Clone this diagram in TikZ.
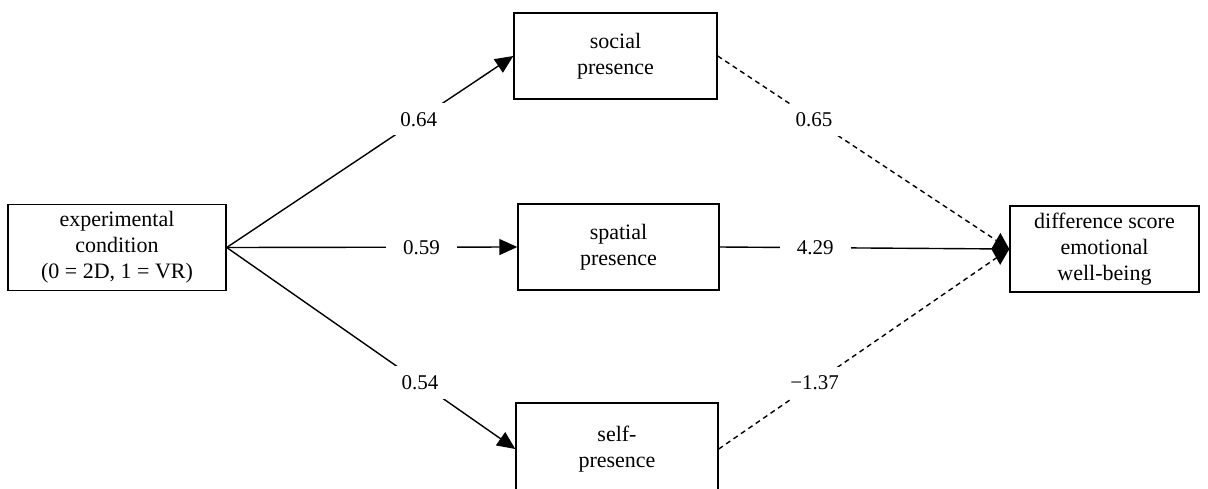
\documentclass[tikz,border=0pt]{standalone}
\usepackage{fontspec}
\setmainfont{Liberation Serif}
\usetikzlibrary{arrows.meta}

\begin{document}
\begin{tikzpicture}[x=1pt, y=-1pt, every node/.style={font=\fontsize{22}{26}\selectfont},
	box/.style={draw, line width=1.4pt, align=center, inner sep=0pt, minimum height=86pt},
	lbl/.style={fill=white, inner xsep=17pt, inner ysep=9pt, font=\fontsize{21}{25}\selectfont}]
	\useasboundingbox (0,0) rectangle (1208,488);
	\node[box, minimum width=218pt] (cond) at (117,247.5) {experimental\\ condition\\ (0 = 2D, 1 = VR)};
	\node[box, minimum width=203pt] (social) at (615.5,56) {social\\ presence};
	\node[box, minimum width=201pt] (spatial) at (618.5,247) {spatial\\ presence};
	\node[box, minimum width=202pt, minimum height=92pt] (self) at (617,449) {self-\\ presence};
	\node[box, minimum width=189pt] (wb) at (1104.5,249) {difference score\\ emotional\\ well-being};
	\foreach \m/\a in {social/0.64, spatial/0.59, self/0.54}
		{\draw[line width=1.4pt, -{Triangle[length=18pt, width=16pt]}] (cond.east) -- (\m.west) node[lbl, pos=0.67] {\a};}
	\draw[line width=1.4pt, dash pattern=on 5pt off 4pt] (social.east) -- (wb.west) node[lbl, pos=0.33] {0.65};
	\draw[line width=1.4pt, dash pattern=on 5pt off 4pt] (self.east) -- (wb.west) node[lbl, pos=0.33] {−1.37};
	\draw[line width=1.4pt, -{Diamond[length=18pt, width=32pt]}] (spatial.east) -- (wb.west) node[lbl, pos=0.33] {4.29};
\end{tikzpicture}
\end{document}
